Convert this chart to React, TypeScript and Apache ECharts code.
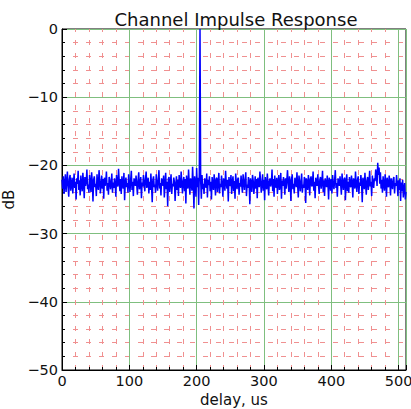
import React, { useEffect, useRef } from "react";
import * as echarts from "echarts";

const titleText = "Channel Impulse Response";
const xName = "delay, us";
const yName = "dB";
const xTicks = [0, 100, 200, 300, 400, 500];
const yTicks = [-50, -40, -30, -20, -10, 0];

// magnitude per delay sample (dB), sample index = delay in us
const dB: number[] = [
  -22.1,-23.4,-21.6,-24.2,-22.8,-21.3,-23.9,-22.5,-20.9,-23.1,-24.6,-22.0,-21.4,-23.7,-22.9,-21.8,
  -24.1,-22.6,-21.2,-23.3,-22.4,-25.0,-21.9,-22.7,-20.8,-23.6,-22.2,-24.4,-21.5,-22.9,-23.8,-21.1,
  -22.5,-24.8,-21.7,-23.0,-22.3,-20.6,-23.5,-22.8,-24.0,-21.4,-22.6,-23.9,-21.0,-22.4,-25.3,-22.1,
  -21.6,-23.2,-22.7,-24.5,-21.3,-22.9,-23.6,-20.7,-22.2,-24.1,-22.8,-21.5,-23.4,-22.0,-24.9,-21.8,
  -23.0,-22.4,-20.9,-23.7,-22.6,-24.3,-21.7,-22.1,-23.5,-22.9,-21.2,-24.0,-22.5,-23.3,-21.9,-22.7,
  -24.6,-21.4,-22.8,-23.1,-20.5,-22.3,-23.8,-22.0,-24.2,-21.6,-22.9,-23.4,-21.1,-25.1,-22.4,-21.8,
  -23.2,-22.6,-24.0,-21.3,-22.7,-23.9,-22.1,-20.8,-23.6,-22.4,-24.5,-21.9,-22.3,-23.0,-21.5,-22.8,
  -24.3,-22.2,-21.0,-23.5,-22.9,-21.7,-24.8,-22.5,-23.1,-21.4,-22.6,-23.8,-22.0,-20.9,-23.3,-22.7,
  -21.8,-24.1,-22.4,-23.6,-21.2,-22.9,-25.4,-22.1,-21.6,-23.2,-22.8,-24.0,-21.3,-22.5,-23.7,-22.2,
  -20.7,-23.4,-22.6,-24.4,-21.9,-22.3,-23.0,-21.5,-24.7,-22.8,-21.1,-23.5,-22.4,-26.0,-22.0,-21.7,
  -23.9,-22.5,-21.3,-24.2,-22.7,-23.1,-21.8,-22.4,-25.2,-22.9,-21.6,-23.6,-22.1,-24.5,-21.4,-22.8,
  -23.3,-20.9,-22.6,-24.1,-22.3,-21.7,-23.8,-22.0,-25.6,-21.5,-22.9,-23.4,-20.6,-22.7,-24.3,-21.9,
  -22.4,-23.7,-20.2,-22.8,-26.3,-21.6,-22.5,-24.6,-20.4,-23.2,-21.8,-25.8,-21.0,0,-22.3,-24.9,
  -21.4,-23.5,-22.7,-24.2,-21.9,-22.6,-23.3,-21.2,-24.7,-22.1,-22.9,-21.6,-23.8,-22.4,-25.0,-21.7,
  -22.8,-23.6,-21.3,-22.5,-24.4,-22.0,-21.8,-23.9,-22.6,-21.1,-24.1,-22.7,-23.2,-21.5,-22.9,-24.6,
  -21.9,-22.4,-23.7,-20.8,-22.6,-23.4,-22.1,-25.3,-21.7,-22.8,-23.0,-21.4,-24.2,-22.5,-21.6,-23.8,
  -22.3,-24.9,-21.2,-22.7,-23.5,-22.0,-21.8,-24.3,-22.6,-23.1,-21.5,-22.9,-24.0,-21.3,-22.4,-23.6,
  -22.1,-21.0,-24.5,-22.8,-23.3,-21.7,-22.5,-25.7,-21.9,-22.6,-23.9,-21.4,-22.2,-24.2,-22.9,-21.6,
  -23.4,-22.0,-24.8,-21.8,-22.7,-23.2,-20.9,-22.4,-24.0,-22.6,-21.3,-23.7,-22.1,-25.1,-21.7,-22.9,
  -23.5,-21.2,-22.8,-24.4,-22.3,-21.9,-23.1,-22.6,-20.6,-23.8,-22.0,-24.6,-21.5,-22.7,-23.3,-21.8,
  -24.2,-22.5,-21.4,-23.6,-22.9,-21.1,-24.9,-22.2,-23.0,-21.7,-22.6,-24.3,-21.9,-23.4,-22.1,-20.7,
  -22.8,-23.9,-21.6,-22.4,-25.2,-22.0,-21.3,-23.5,-22.7,-24.1,-21.8,-22.5,-23.2,-21.0,-22.9,-24.7,
  -21.5,-22.3,-23.8,-22.6,-21.2,-24.0,-22.8,-23.3,-21.7,-22.1,-25.5,-21.9,-22.7,-23.6,-21.4,-22.5,
  -24.4,-22.0,-21.6,-23.1,-22.8,-20.9,-23.7,-22.4,-24.8,-21.8,-22.6,-23.0,-21.3,-22.9,-24.2,-22.1,
  -21.7,-23.4,-22.5,-20.8,-23.9,-22.2,-24.5,-21.9,-22.7,-23.2,-21.5,-22.6,-25.0,-21.8,-22.3,-23.7,
  -22.0,-24.1,-21.4,-22.8,-23.5,-22.1,-20.7,-23.3,-22.6,-24.6,-21.9,-22.4,-23.0,-21.6,-22.9,-24.3,
  -21.2,-22.7,-23.6,-22.0,-21.8,-25.1,-22.5,-21.3,-23.8,-22.4,-24.0,-21.7,-22.9,-23.2,-21.5,-22.6,
  -24.7,-21.9,-22.3,-23.4,-20.9,-22.8,-23.9,-22.1,-21.6,-24.2,-22.5,-23.0,-21.4,-22.7,-25.4,-21.8,
  -22.4,-23.5,-21.1,-22.9,-24.3,-22.2,-21.7,-23.6,-22.6,-20.8,-23.1,-22.4,-24.5,-21.5,-22.8,-23.3,
  -21.9,-22.3,-20.6,-21.2,-23.0,-19.6,-21.4,-20.3,-22.7,-21.0,-23.4,-22.1,-24.0,-21.6,-22.8,-23.7,
  -21.3,-22.5,-24.6,-21.8,-22.9,-23.2,-21.5,-22.4,-24.4,-21.9,-22.7,-23.5,-22.0,-21.7,-24.1,-22.6,
  -23.0,-21.4,-22.8,-24.5,-22.2,-23.6,-21.9,-25.2,-22.5,-23.8,-22.1,-24.7,-23.3,-22.6,-25.0,-23.9,
];

const FONT = "DejaVu Sans";

export default function App() {
  const ref = useRef<HTMLDivElement>(null);
  useEffect(() => {
    if (!ref.current) return;
    const chart = echarts.init(ref.current, undefined, { renderer: "svg" });
    const points = dB.map((v, i) => [i, v]);
    chart.setOption({
      animation: false,
      backgroundColor: "#ffffff",
      title: {
        text: titleText,
        left: 231,
        top: 5,
        textAlign: "center",
        textStyle: { fontFamily: FONT, fontSize: 18, fontWeight: "normal", color: "#111" },
      },
      grid: {
        left: 62,
        right: 5,
        top: 29,
        bottom: 39,
        outerBoundsMode: "none",
        containLabel: false,
        show: true,
        borderColor: "#000",
        borderWidth: 1,
        backgroundColor: "transparent",
      },
      xAxis: {
        type: "value",
        min: 0,
        max: 511,
        interval: 100,
        name: xName,
        nameLocation: "middle",
        nameGap: 18,
        nameTextStyle: { fontFamily: FONT, fontSize: 15, color: "#111" },
        axisLine: { show: true, onZero: false, lineStyle: { color: "#000" } },
        axisTick: { show: true, inside: true, length: 5, lineStyle: { color: "#000" } },
        minorTick: { show: true, splitNumber: 5, length: 3, lineStyle: { color: "#000" } },
        axisLabel: {
          fontFamily: FONT,
          fontSize: 14.5,
          color: "#111",
          margin: 3,
          customValues: xTicks,
          formatter: (v: number) => String(v),
        },
        splitLine: { show: true, lineStyle: { color: "#7fbf7f", width: 1 } },
        minorSplitLine: {
          show: true,
          lineStyle: { color: "#f09090", width: 1, type: [5, 8], dashOffset: 2 },
        },
      },
      yAxis: {
        type: "value",
        min: -50,
        max: 0,
        interval: 10,
        name: yName,
        nameLocation: "middle",
        nameGap: 28,
        nameTextStyle: { fontFamily: FONT, fontSize: 15, color: "#111" },
        axisLine: { show: true, lineStyle: { color: "#000" } },
        axisTick: { show: true, inside: true, length: 5, lineStyle: { color: "#000" } },
        minorTick: { show: true, splitNumber: 5, length: 3, lineStyle: { color: "#000" } },
        axisLabel: {
          fontFamily: FONT,
          fontSize: 14.5,
          color: "#111",
          margin: 4,
          customValues: yTicks,
          formatter: (v: number) => String(v).replace("-", "\u2212"),
        },
        splitLine: { show: true, lineStyle: { color: "#7fbf7f", width: 1 } },
        minorSplitLine: {
          show: true,
          lineStyle: { color: "#f09090", width: 1, type: [5, 8], dashOffset: 2 },
        },
      },
      series: [
        {
          type: "line",
          data: points,
          showSymbol: false,
          symbol: "none",
          lineStyle: { color: "#0000ff", width: 1.5 },
          z: 5,
        },
      ],
    });
    return () => chart.dispose();
  }, []);
  return (
    <div
      ref={ref}
      style={{ position: "fixed", left: 0, top: 0, width: 411, height: 409, background: "#fff" }}
    />
  );
}
